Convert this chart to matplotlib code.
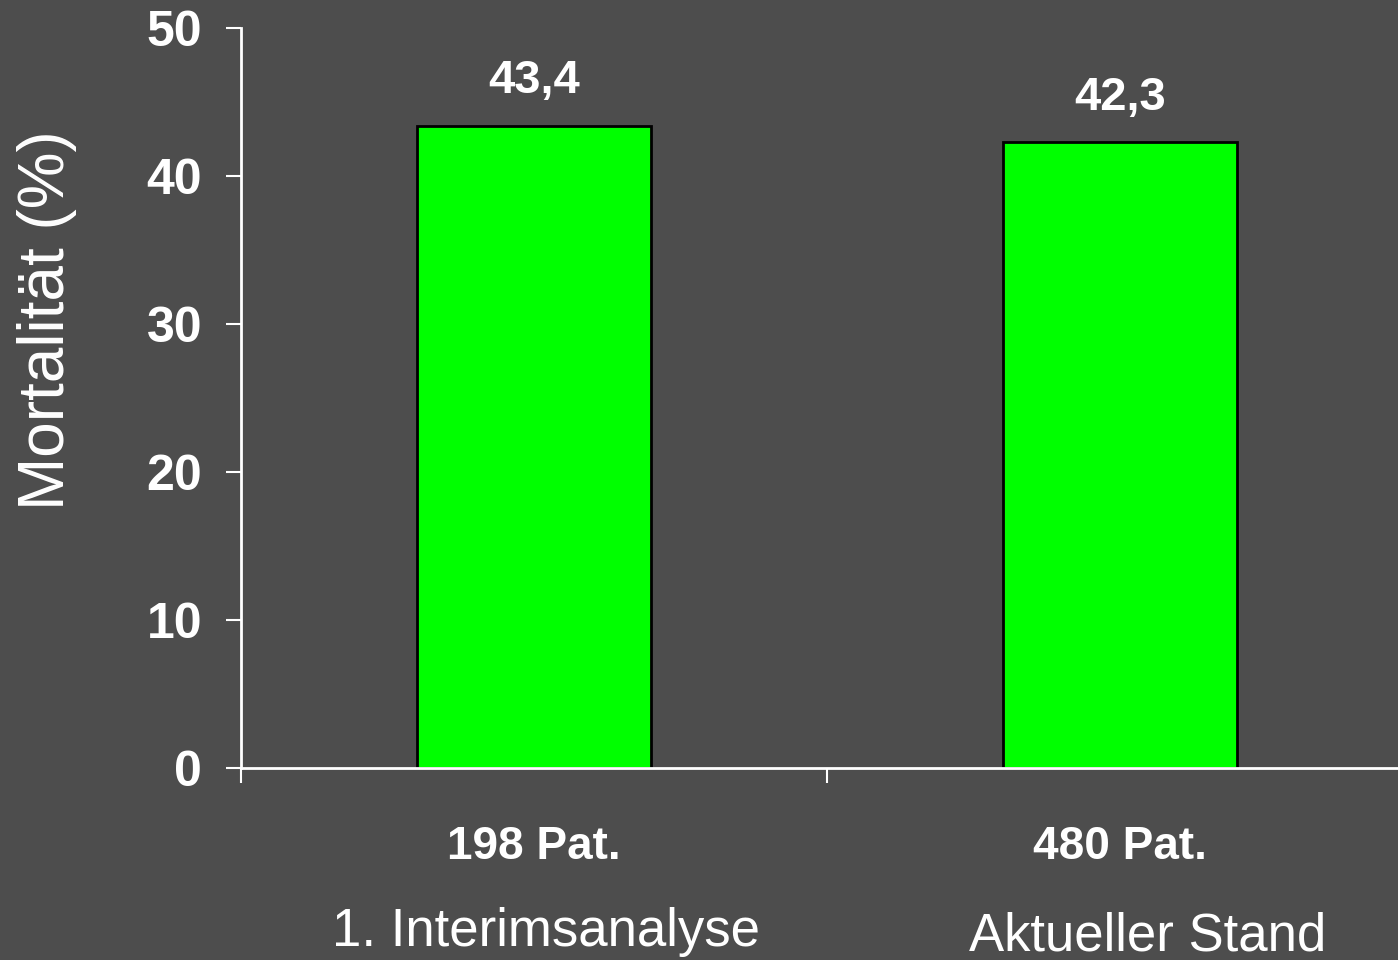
import matplotlib
matplotlib.use("Agg")
import matplotlib.pyplot as plt
import numpy as np

# values
groups = ["198 Pat.", "480 Pat."]
subtitles = ["1. Interimsanalyse", "Aktueller Stand"]
mortality = [43.4, 42.3]
value_labels = ["43,4", "42,3"]
yticks = [0, 10, 20, 30, 40, 50]

bg = "#4d4d4d"
plt.rcParams["font.family"] = ["Liberation Sans", "DejaVu Sans"]

fig = plt.figure(figsize=(13.98, 9.6), dpi=100, facecolor=bg)
ax = fig.add_axes([241 / 1398, 192 / 960, 1172 / 1398, 740 / 960], facecolor=bg)

x = np.arange(len(mortality)) + 0.5
ax.bar(x, mortality, width=0.4, color="#00ff00", edgecolor="black", linewidth=2, zorder=2)

for xi, v, lab in zip(x, mortality, value_labels):
    ax.annotate(lab, (xi, v), xytext=(0, 32), textcoords="offset points",
                ha="center", va="center", color="white", fontsize=34, fontweight="bold")

ax.set_xlim(0, 2)
ax.set_ylim(0, 50)
ax.set_yticks(yticks)
ax.set_yticklabels([str(t) for t in yticks], fontsize=36, fontweight="bold", color="white")

# boundaries between categories get the ticks, names sit under the bars
ax.set_xticks([0, 1, 2])
ax.set_xticklabels([])
ax.set_xticks(x, minor=True)
ax.set_xticklabels(groups, minor=True, fontsize=33, fontweight="bold", color="white")
ax.tick_params(axis="x", which="minor", length=0, pad=41)
ax.tick_params(axis="x", which="major", length=11, width=1.5, color="white", direction="out")
ax.tick_params(axis="y", length=11, width=1.5, color="white", direction="out", pad=17)

offsets = [(12, -118), (28, -121)]
for xi, sub, (dx, dy) in zip(x, subtitles, offsets):
    ax.annotate(sub, (xi, 0), xytext=(dx * 0.72, dy), textcoords="offset points",
                ha="center", va="center", color="white", fontsize=38)

for side in ["top", "right"]:
    ax.spines[side].set_visible(False)
for side in ["left", "bottom"]:
    ax.spines[side].set_color("white")
    ax.spines[side].set_linewidth(2)

fig.text(47 / 1398, 1 - 320 / 960, "Mortalität (%)", rotation=90, ha="center", va="center",
         color="white", fontsize=46)

fig.savefig("out.png", dpi=100, facecolor=bg)
